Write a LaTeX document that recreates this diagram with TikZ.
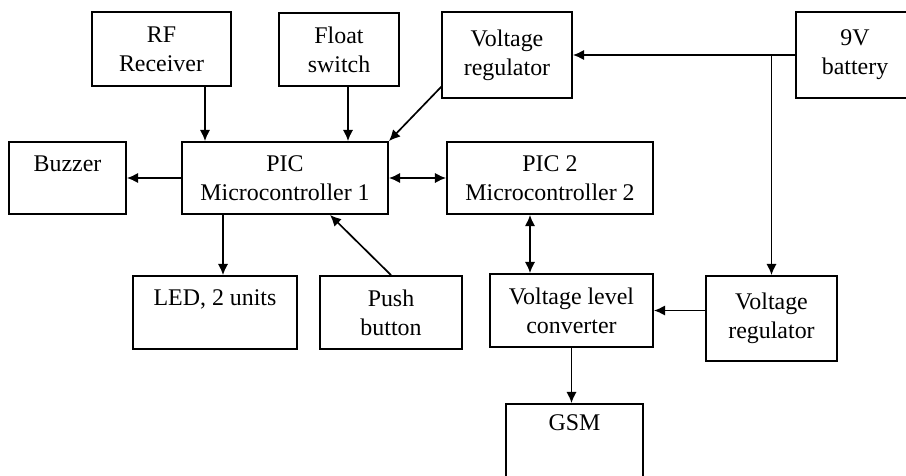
\documentclass[tikz,border=0pt]{standalone}
\usepackage{fontspec}
\setmainfont{Liberation Serif}
\usetikzlibrary{arrows.meta,calc}
\newcommand{\pxl}{0.025cm}
\tikzstyle{block}=[rectangle, draw, line width=1.3pt, inner sep=0pt, align=center, font=\fontsize{17}{20.6}\selectfont]
\tikzstyle{arr}=[-{Latex[length=2.8mm,width=2.6mm]}, line width=1.2pt]
\tikzstyle{arrs}=[{Latex[length=2.8mm,width=2.6mm]}-{Latex[length=2.8mm,width=2.6mm]}, line width=1.2pt]
\newcommand{\blk}{\node[block]}

\begin{document}
\begin{tikzpicture}[x=0.025cm, y=-0.025cm]
\useasboundingbox (0,0) rectangle (906,475);

\blk[minimum width=139*\pxl, minimum height=74*\pxl] (rf) at (161.5,49) {RF\\Receiver};
    \blk[minimum width=120*\pxl, minimum height=73*\pxl] (float) at (339,49.5) {Float\\switch};
    \blk[minimum width=130*\pxl, minimum height=86*\pxl] (vregA) at (507,55) {Voltage\\regulator};
    \blk[minimum width=118*\pxl, minimum height=86*\pxl] (batt) at (855,55) {9V\\battery};
    \blk[minimum width=117*\pxl, minimum height=72*\pxl] (buzzer) at (67.5,178) {Buzzer\\~};
    \blk[minimum width=206*\pxl, minimum height=72*\pxl] (pic1) at (285,178) {PIC\\Microcontroller 1};
    \blk[minimum width=206*\pxl, minimum height=72*\pxl] (pic2) at (550,178) {PIC 2\\Microcontroller 2};
    \blk[minimum width=164*\pxl, minimum height=73*\pxl] (led) at (215,312.5) {LED, 2 units\\~};
    \blk[minimum width=142*\pxl, minimum height=73*\pxl] (push) at (391,312.5) {Push\\button};
    \blk[minimum width=163*\pxl, minimum height=73*\pxl] (vlc) at (571.5,310.5) {Voltage level\\converter};
    \blk[minimum width=131*\pxl, minimum height=85*\pxl] (vregB) at (771.5,318.5) {Voltage\\regulator};
    \blk[minimum width=137*\pxl, minimum height=96*\pxl] (gsm) at (574.5,452) {GSM\\~\\~};
    ;
    % power lines
    \draw[arr] (batt.west) -- (vregA.east);
    \draw[arr] (batt.west -| vregB.north) -- (vregB.north);
    \draw[arr] ($(vregA.south west)+(1,-13)$) -- (pic1.north east);
    % signals
    \draw[arr] (rf.south -| 205,0) -- (pic1.north -| 205,0);
    \draw[arr] (float.south -| 348,0) -- (pic1.north -| 348,0);
    \draw[arr] (pic1.west) -- (buzzer.east);
    \draw[arrs] (pic1.east) -- (pic2.west);
    \draw[arr] (pic1.south -| 223,0) -- (led.north -| 223,0);
    \draw[arr] (push.north) -- (pic1.south -| 330,0);
    \draw[arrs] (pic2.south -| 530,0) -- (vlc.north -| 530,0);
    \draw[arr] (vregB.west |- vlc.east) -- (vlc.east);
    \draw[arr] (vlc.south) -- (vlc.south |- gsm.north);
\end{tikzpicture}
\end{document}
